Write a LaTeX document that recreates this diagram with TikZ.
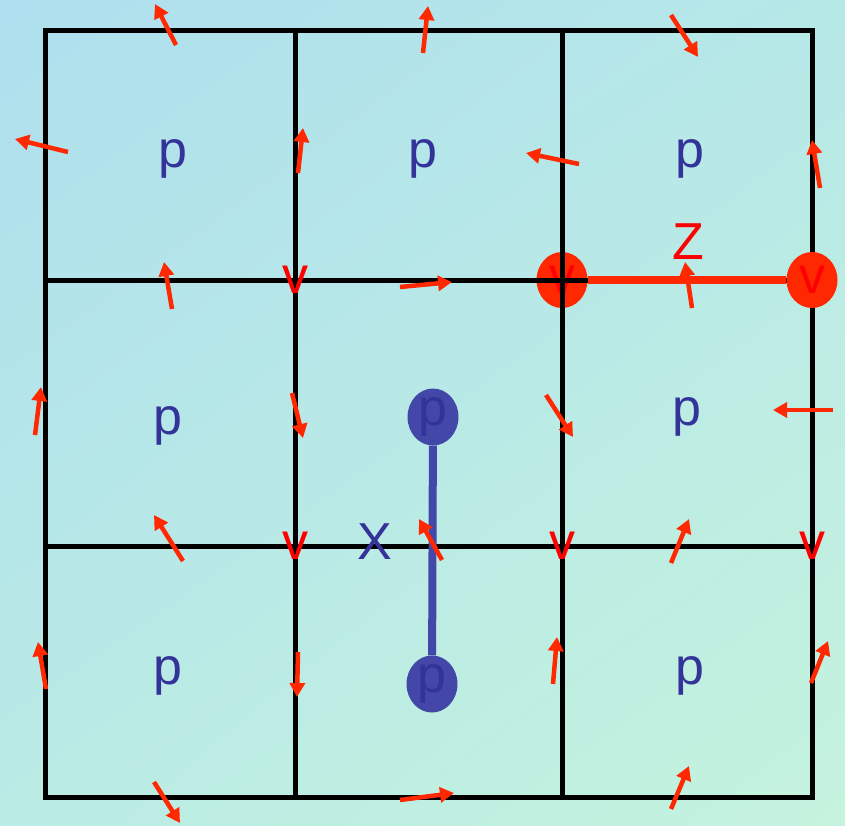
\documentclass[tikz,border=0pt]{standalone}
\usepackage{fontspec}
\setmainfont{Liberation Sans}
\usetikzlibrary{arrows.meta, shapes.geometric, shadings}
\definecolor{bgtopleft}{RGB}{174,223,238}
\definecolor{bgtopright}{RGB}{183,232,232}
\definecolor{bgbottomleft}{RGB}{186,235,229}
\definecolor{bgbottomright}{RGB}{197,243,221}
\definecolor{vecred}{RGB}{255,40,0}
\definecolor{labelblue}{RGB}{51,51,153}
\definecolor{ballblue}{RGB}{67,71,168}

\tikzset{
    bigfont/.style={font=\fontsize{52}{52}\selectfont},
    plabel/.style={bigfont, text=labelblue, inner sep=0pt},
    vlabel/.style={bigfont, text=red, inner sep=0pt},
    redball/.style={ellipse, fill=vecred, minimum width=51pt, minimum height=56pt, inner sep=0pt, vlabel},
    blueball/.style={ellipse, fill=ballblue, minimum width=51pt, minimum height=57pt, inner sep=0pt, plabel},
    gridline/.style={draw=black, line width=5pt},
    vec/.style={draw=vecred, line width=4.5pt, -{Triangle[length=14pt, width=15pt]}}
}

\begin{document}
\begin{tikzpicture}[x=1pt, y=-1pt]
    \useasboundingbox (0,0) rectangle (845,825);

    % Background
    \shade[upper left=bgtopleft, upper right=bgtopright,
           lower left=bgbottomleft, lower right=bgbottomright] (0,0) rectangle (845,825);

    % Left red vertex (under the grid)
    \node[redball] (v1) at (562,280) {v};

    % Grid
    \draw[gridline, line cap=rect] (45,30) rectangle (812,797);
    \foreach \x in {295,562} {
        \draw[gridline] (\x,30) -- (\x,797);
    }
    \foreach \y in {280,546} {
        \draw[gridline] (45,\y) -- (812,\y);
    }

    % Right red vertex and the Z edge
    \node[redball] (v2) at (812,280) {v};
    \draw[draw=vecred, line width=8pt] (v1) -- (v2);
    \node[vlabel] (z) at (688,242) {Z};

    % Blue pressure points and the X edge
    \node[blueball] (b1) at (433,417) {p};
    \node[blueball] (b2) at (432,684) {p};
    \draw[draw=ballblue, line width=8pt] (b1) -- (b2);
    \node[plabel] (x) at (375,542) {X};

    % Pressure labels
    \foreach \x/\y/\n in {173/159/a, 423/159/b, 690/159/c,
                          168/426/d, 687/417/e,
                          168/676/f, 690/676/g} {
        \node[plabel] (p\n) at (\x,\y) {p};
    }

    % Velocity labels at the nodes
    \foreach \x/\y/\n in {295/280/a, 295/546/b, 562/546/c, 812/546/d} {
        \node[vlabel] (v\n) at (\x,\y) {v};
    }

    % Arrows
    \foreach \xa/\ya/\xb/\yb in {176/45/155/4, 68/152/15/139, 172/309/164/262,
                                 423/53/428/6, 298/173/303/128, 579/164/526/153,
                                 400/287/452/282, 671/15/698/57, 820/188/812/140,
                                 692/308/685/262, 35/435/41/387, 183/561/154/515,
                                 292/393/303/438, 442/560/419/519, 546/395/573/437,
                                 833/410/773/410, 671/563/689/519, 46/689/38/642,
                                 154/782/180/823, 298/652/297/697, 553/684/557/637,
                                 400/800/454/793, 811/683/828/641, 671/809/689/766} {
        \draw[vec] (\xa,\ya) -- (\xb,\yb);
    }

\end{tikzpicture}
\end{document}
